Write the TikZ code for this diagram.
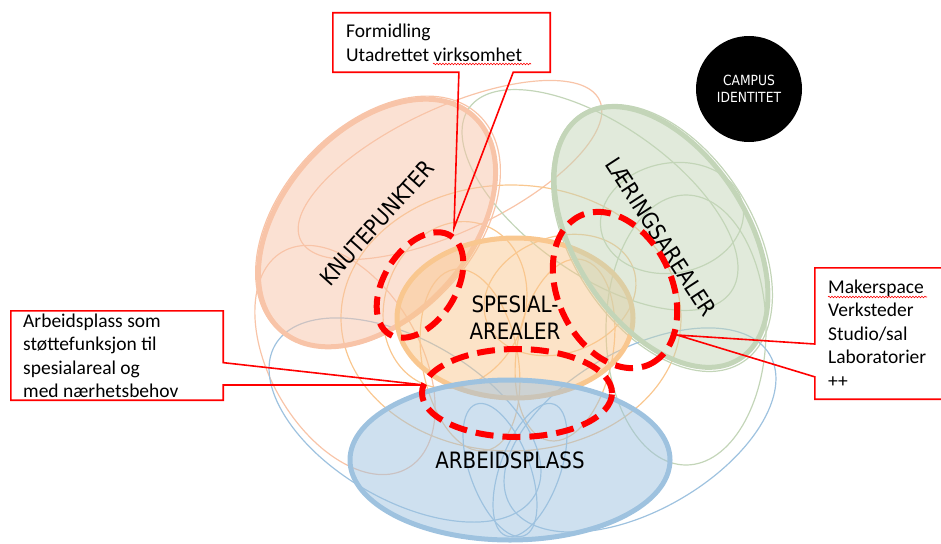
\documentclass[tikz,border=0pt]{standalone}
\usepackage{fontspec}
\setmainfont{Carlito}
\newfontfamily\labelfont[FakeStretch=0.88]{DejaVu Sans}
\usetikzlibrary{shapes.geometric,calc,decorations.pathmorphing}
\definecolor{salmonline}{HTML}{F8C4A8}
\definecolor{orangeline}{HTML}{F9C78F}
\definecolor{greenline}{HTML}{C3D5B8}
\definecolor{blueline}{HTML}{9EC2DF}
\definecolor{calloutred}{HTML}{FF0000}
\begin{document}
\begin{tikzpicture}[x=1pt,y=-1pt,
    area/.style={ellipse, inner sep=0pt, line width=5pt, fill opacity=0.5, text opacity=1,
      font=\labelfont\fontsize{22.5}{27}\selectfont, align=center},
    ring/.style={line width=1.2pt},
    focus/.style={ellipse, inner sep=0pt, draw=calloutred, line width=6pt, dash pattern=on 18pt off 9pt},
    callout/.style={draw=calloutred, line width=1.6pt},
    calltext/.style={anchor=north west, inner sep=0pt, align=left, font=\fontsize{19.5}{23.5}\selectfont},
    spell/.style={calloutred, line width=0.6pt, decorate, decoration={snake, amplitude=0.8pt, segment length=3pt}}]
  \useasboundingbox (0,0) rectangle (941,543);
  \clip (0,0) rectangle (941,543);
  % thin rings
  \foreach \cx/\cy/\rx/\ry/\ang in {450/170/165/62/25, 345/360/125/75/-60, 378/222/147/96/47}
    \draw[ring, salmonline] (\cx,\cy) circle [x radius=\rx pt, y radius=\ry pt, rotate=\ang];
  \foreach \cx/\cy/\rx/\ry/\ang in {511/318/170/133/0, 560/295/78/58/20, 455/305/70/85/-20, 470/360/48/92/10, 565/350/48/92/-10}
    \draw[ring, orangeline] (\cx,\cy) circle [x radius=\rx pt, y radius=\ry pt, rotate=\ang];
  \foreach \cx/\cy/\rx/\ry/\ang in {600/200/160/75/-35, 686/330/80/135/0, 672/218/72/55/10, 662/238/148/90/-57}
    \draw[ring, greenline] (\cx,\cy) circle [x radius=\rx pt, y radius=\ry pt, rotate=\ang];
  \foreach \cx/\cy/\rx/\ry/\ang in {405/420/150/80/-30, 640/430/150/80/30, 500/470/30/70/20, 530/470/30/70/-20}
    \draw[ring, blueline] (\cx,\cy) circle [x radius=\rx pt, y radius=\ry pt, rotate=\ang];
  % areas
  \node[area, draw=salmonline, fill=salmonline, minimum width=288pt, minimum height=186pt, rotate=48] (knute) at (377,223) {KNUTEPUNKTER};
  \node[area, draw=orangeline, fill=orangeline, minimum width=236pt, minimum height=160pt] (spesial) at (515,318) {SPESIAL-\\AREALER};
  \node[area, draw=greenline, fill=greenline, minimum width=290pt, minimum height=172pt, rotate=-57] (laering) at (661,237) {LÆRINGSAREALER};
  \node[area, draw=blueline, fill=blueline, minimum width=320pt, minimum height=160pt] (arbeid) at (510,460) {ARBEIDSPLASS};
  % dashed focus
  \node[focus, minimum width=116pt, minimum height=72pt, rotate=58] (focusknute) at (420,285) {};
  \node[focus, minimum width=164pt, minimum height=114pt, rotate=-65] (focuslaering) at (615,290) {};
  \node[focus, minimum width=190pt, minimum height=88pt] (focusarbeid) at (517,393) {};
  % callouts
  \node[minimum width=217pt, minimum height=59pt, inner sep=0pt] (formbox) at (441.5,42.5) {};
  \node[calltext] (formtext) at (346,24) {Formidling\\Utadrettet virksomhet};
  \coordinate (formw1) at ($(formbox.south west)!0.58!(formbox.south east)$);
  \coordinate (formw2) at ($(formbox.south west)!0.83!(formbox.south east)$);
  \coordinate (formtip) at (454,228);
  \draw[callout] (formbox.south west) -- (formw1) -- (formtip) -- (formw2) -- (formbox.south east)
    -- (formbox.north east) -- (formbox.north west) -- cycle;
  \draw[spell] (433,64) -- (531,64);

  \node[minimum width=212pt, minimum height=89pt, inner sep=0pt] (arbbox) at (117,355.5) {};
  \node[calltext] (arbtext) at (23,313.5) {Arbeidsplass som\\støttefunksjon til\\spesialareal og\\med nærhetsbehov};
  \coordinate (arbw1) at ($(arbbox.north east)!0.58!(arbbox.south east)$);
  \coordinate (arbw2) at ($(arbbox.north east)!0.83!(arbbox.south east)$);
  \coordinate (arbtip) at (424,385);
  \draw[callout] (arbbox.north west) -- (arbbox.north east) -- (arbw1) -- (arbtip) -- (arbw2)
    -- (arbbox.south east) -- (arbbox.south west) -- cycle;

  \node[minimum width=145pt, minimum height=131pt, inner sep=0pt] (makerbox) at (887.5,333.5) {};
  \node[calltext] (makertext) at (828,279.5) {Makerspace\\Verksteder\\Studio/sal\\Laboratorier\\++};
  \coordinate (makerw1) at ($(makerbox.north west)!0.58!(makerbox.south west)$);
  \coordinate (makerw2) at ($(makerbox.north west)!0.83!(makerbox.south west)$);
  \coordinate (makertip) at (677,335);
  \draw[callout] (makerbox.north east) -- (makerbox.north west) -- (makerw1) -- (makertip) -- (makerw2)
    -- (makerbox.south west) -- (makerbox.south east) -- cycle;
  \draw[spell] (828,297) -- (927,297);
  % identity
  \node[circle, fill=black, minimum size=106pt, inner sep=0pt, text=white, align=center,
    font=\labelfont\fontsize{14}{17}\selectfont] (campus) at (749,89) {CAMPUS\\IDENTITET};
\end{tikzpicture}
\end{document}
